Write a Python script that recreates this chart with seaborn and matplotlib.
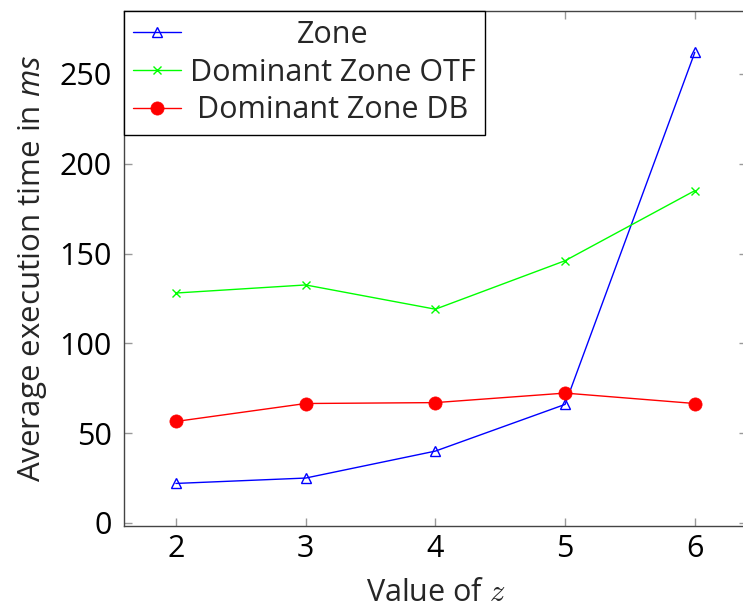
import numpy as np
import pandas as pd
import matplotlib
matplotlib.use("Agg")
import matplotlib.pyplot as plt
import matplotlib.transforms as mtransforms
import seaborn as sns

# Measured execution times per value of z
z_values = [2, 3, 4, 5, 6]
zone_ms = [22, 25, 40, 66, 262]
dominant_otf_ms = [128, 132.5, 119, 146, 185]
dominant_db_ms = [56.5, 66.5, 67, 72.3, 66.5]

series_names = ["Zone", "Dominant Zone OTF", "Dominant Zone DB"]
y_ticks = [0, 50, 100, 150, 200, 250]
x_ticks = [2, 3, 4, 5, 6]

FONT = "Open Sans"
sns.set_theme(style="white")
plt.rcParams["font.family"] = [FONT, "DejaVu Sans"]
plt.rcParams["mathtext.fontset"] = "custom"
plt.rcParams["mathtext.it"] = FONT + ":italic"
plt.rcParams["mathtext.rm"] = FONT

df = pd.DataFrame({
    "z": z_values * 3,
    "time": zone_ms + dominant_otf_ms + dominant_db_ms,
    "series": [series_names[0]] * 5 + [series_names[1]] * 5 + [series_names[2]] * 5,
})

fig = plt.figure(figsize=(7.43, 6.12), dpi=100)
ax = fig.add_axes([0.1669, 0.1405, 0.8381, 0.8415])

styles = {
    "Zone": dict(color="#0000ff", marker="^", mfc="none", mec="#0000ff", mew=1.0, ms=7),
    "Dominant Zone OTF": dict(color="#00ff00", marker="x", mfc="#00ff00", mec="#00ff00", mew=1.0, ms=6),
    "Dominant Zone DB": dict(color="#ff0000", marker="o", mfc="#ff0000", mec="#ff0000", mew=0.5, ms=9.5),
}

for name in series_names:
    sub = df[df["series"] == name]
    st = styles[name]
    sns.lineplot(data=sub, x="z", y="time", ax=ax, label=name,
                 color=st["color"], marker=st["marker"],
                 markerfacecolor=st["mfc"], markeredgecolor=st["mec"],
                 markeredgewidth=st["mew"], markersize=st["ms"],
                 linewidth=1.0, errorbar=None)

ax.set_xlim(1.6, 6.4)
ax.set_ylim(-1.7, 285)
ax.set_xticks(x_ticks)
ax.set_yticks(y_ticks)

for side in ["left", "right", "top", "bottom"]:
    ax.spines[side].set_visible(True)
    ax.spines[side].set_color("#444444")
    ax.spines[side].set_linewidth(1.0)

ax.tick_params(axis="both", which="major", direction="in", length=6, width=1.0,
               color="#999999", labelsize=22, labelcolor="black",
               top=True, right=True, bottom=True, left=True)
ax.tick_params(axis="y", pad=9)
ax.tick_params(axis="x", pad=6)

ax.set_xlabel("Value of $z$", fontsize=22, math_fontfamily="cm", labelpad=10)
ax.set_ylabel("Average execution time in $ms$", fontsize=22.5, labelpad=7)

leg = ax.legend(loc="upper left", bbox_to_anchor=(0, 1), borderaxespad=0,
                fontsize=22, frameon=True, fancybox=False, framealpha=1,
                edgecolor="black", handlelength=1.55, handletextpad=0.3,
                borderpad=0.3, labelspacing=0.25)
leg.get_frame().set_linewidth(1.0)

# Center the legend labels within their column
fig.canvas.draw()
renderer = fig.canvas.get_renderer()
texts = leg.get_texts()
widths = [t.get_window_extent(renderer).width for t in texts]
wmax = max(widths)
for t, w in zip(texts, widths):
    dx = (wmax - w) / 2.0
    t.set_transform(t.get_transform() + mtransforms.Affine2D().translate(dx, 0))

fig.savefig("out.png", dpi=100)
